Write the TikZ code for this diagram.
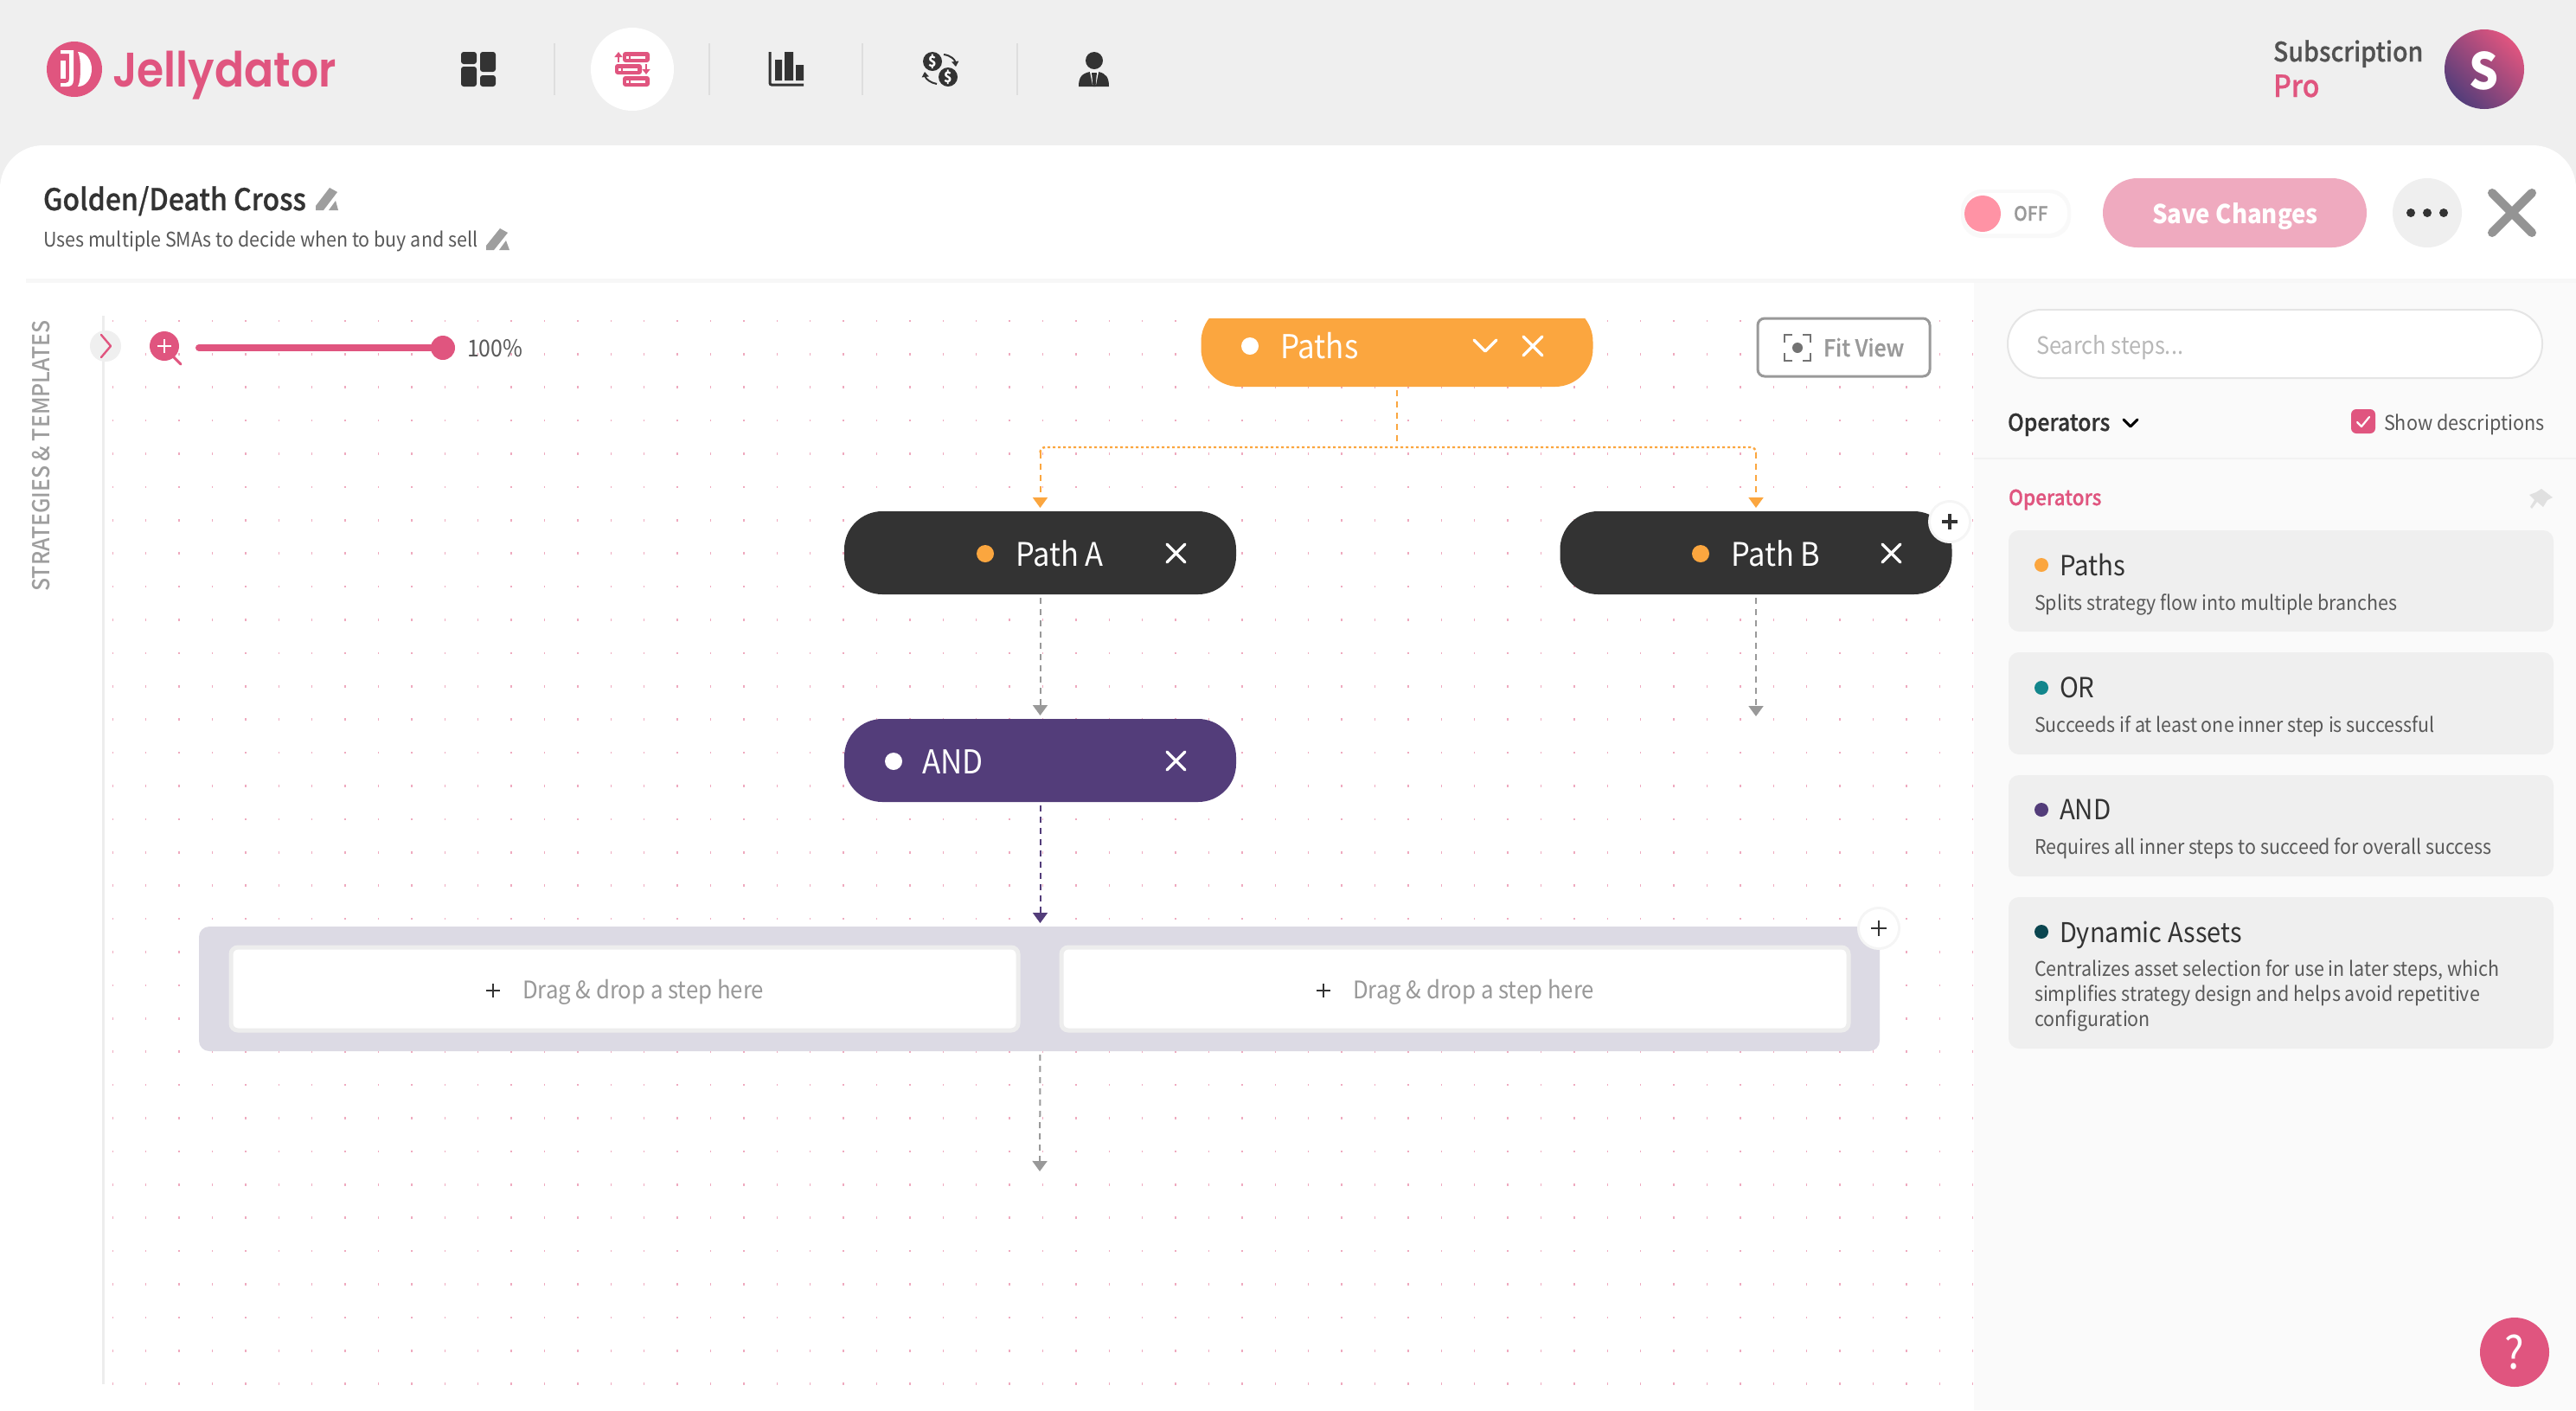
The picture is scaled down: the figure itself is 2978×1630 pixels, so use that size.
\documentclass[tikz,border=0pt]{standalone}
\usepackage{fontspec}
\usetikzlibrary{arrows.meta,calc}
\setmainfont{Noto Sans CJK SC}[FakeStretch=0.92]
\newfontfamily\medf{Noto Sans CJK SC Medium}[FakeStretch=0.92]
\newfontfamily\semif{Noto Sans CJK SC Medium}[FakeStretch=0.92,FakeBold=0.7]
\newfontfamily\logof{Poppins SemiBold}[FakeStretch=0.9]
\newcommand\fsz[1]{\fontsize{\fpeval{#1*0.5}}{\fpeval{#1*0.6}}\selectfont}
\definecolor{pinkc}{HTML}{E0557F}
\definecolor{orangec}{HTML}{FBA63F}
\definecolor{darkc}{HTML}{333333}
\definecolor{purplec}{HTML}{533D7A}
\definecolor{greyc}{HTML}{999999}
\definecolor{panelc}{HTML}{EFEFEF}
\definecolor{togglec}{HTML}{FF93A5}
\definecolor{groupc}{HTML}{DCDAE4}
\definecolor{tealc}{HTML}{12868C}
\definecolor{deepc}{HTML}{0B4650}
\tikzset{
 lbl/.style={inner sep=0pt,outer sep=0pt,anchor=base west},
 pill/.style={fill=#1,inner sep=0pt,outer sep=0pt,minimum width=226.5pt,minimum height=48pt,rounded corners=22pt},
 griddot/.style={fill=pinkc!50},
 flow/.style={line width=1pt,dash pattern=on 3.5pt off 3pt,-{Triangle[width=8.5pt,length=6pt]}},
 xmark/.style={draw=white,line width=1.7pt,line cap=round},
 dropbox/.style={fill=white,draw=black!7,line width=2.5pt,rounded corners=4pt,inner sep=0pt,outer sep=0pt,minimum width=455pt,minimum height=48pt},
 floatplus/.style={circle,fill=white,inner sep=0pt,outer sep=0pt,minimum size=22pt},
}
\begin{document}
\begin{tikzpicture}[x=0.5pt,y=-0.5pt]
\useasboundingbox (0,0) rectangle (2978,1630);
\fill[panelc] (0,0) rectangle (2978,1630);
\fill[white,rounded corners=25pt] (0,168) rectangle (2978,1720);
\fill[black!2] (2282,325) rectangle (2978,1630);
\fill[black!3] (30,322) rectangle (2978,327);
% grid
\foreach \i in {0,...,56}{\foreach \j in {0,...,32}{\fill[griddot] (129.5+\i*38.4,369.5+\j*38.4) rectangle ++(1.5,2.6);}}
\fill[black!7] (118,365) rectangle (121,1600);
% logo
\fill[pinkc] (86,80) circle (32);
\fill[white] (70,58) -- (85,58) -- (85,92) .. controls (85,98) and (82,100) .. (78,100) -- (70,100) -- (70,96) -- (76,96) .. controls (79,96) and (80,94) .. (80,91) -- (80,62) -- (70,62) -- cycle;
\fill[white] (70,70) -- (76,70) -- (76,91) -- (70,91) -- cycle;
\fill[white] (90,60) .. controls (100,60) and (106,70) .. (106,80) .. controls (106,90) and (100,100) .. (90,100) .. controls (94,94) and (94,66) .. (90,60) -- cycle;
\node[lbl,text=pinkc] (logotext) at (130,100) {\logof\fsz{56}Jellydator};
% nav icons
\fill[darkc,rounded corners=1.5pt] (533,60) rectangle (551,74);
\fill[darkc,rounded corners=1.5pt] (555,60) rectangle (573,83);
\fill[darkc,rounded corners=1.5pt] (533,77) rectangle (551,100);
\fill[darkc,rounded corners=1.5pt] (555,87) rectangle (573,100);
\foreach \x in {641,820,997,1176}{\draw[black!13,line width=1pt] (\x,50) -- (\x,110);}
\fill[white] (731,80) circle (48);
\foreach \x/\y in {720/60,711/74,720/88}{
 \fill[pinkc,rounded corners=1.5pt] (\x,\y) rectangle ++(31,12);
 \fill[white] (\x+4,\y+5) rectangle ++(2.5,2.5);
 \fill[white] (\x+9,\y+5) rectangle ++(17,2.5);}
\draw[pinkc,line width=1pt,-{Triangle[width=4.5pt,length=3pt]}] (715,72) -- (715,60);
\draw[pinkc,line width=1pt,-{Triangle[width=4.5pt,length=3pt]}] (747,74) -- (747,86);
\draw[darkc,line width=1.5pt,rounded corners=1pt] (890,60) -- (890,98) -- (929,98);
\fill[darkc] (896,69) rectangle (904,93) (907,60) rectangle (917,93) (920,75) rectangle (929,93);
\fill[darkc] (1078,71) circle (11) (1096,89) circle (11);
\node[text=white,inner sep=0pt] (usd1) at (1078,71) {\bfseries\fsz{17}\$};
\node[text=white,inner sep=0pt] (usd2) at (1096,89) {\bfseries\fsz{17}\$};
\draw[darkc,line width=1pt,-{Triangle[width=4pt,length=3pt]}] (1091,63) .. controls (1099,64) and (1104,69) .. (1105,77);
\draw[darkc,line width=1pt,-{Triangle[width=4pt,length=3pt]}] (1083,97) .. controls (1076,96) and (1070,91) .. (1069,83);
\fill[darkc] (1265,70) circle (10);
\fill[darkc] (1247,100) .. controls (1247,90) and (1250,85) .. (1260,83) -- (1270,83) .. controls (1279,85) and (1282,90) .. (1282,100) -- cycle;
\fill[white] (1260,83) -- (1270,83) -- (1267,98) -- (1263,98) -- cycle;
\fill[darkc] (1262,84) -- (1268,84) -- (1266.5,100) -- (1263.5,100) -- cycle;
% account
\node[lbl,text=black!68] (subs) at (2628,71) {\semif\fsz{31}Subscription};
\node[lbl,text=pinkc] (pro) at (2628,112) {\semif\fsz{35}Pro};
\shade[left color=pinkc,right color=purplec,shading angle=-45] (2872,80) circle (46);
\node[text=white,inner sep=0pt] (avatar) at (2872,82) {\bfseries\fsz{58}S};
% heading
\node[lbl,text=darkc] (title) at (50,243) {\semif\fsz{34.8}Golden/Death Cross};
\fill[black!38] (381,217) -- (390,222) -- (374,243) -- (365,243) -- (365,238) -- cycle (380,243) -- (391,243) -- (388,232) -- cycle;
\node[lbl,text=black!65] (subtitle) at (50,285) {\fsz{23.3}Uses multiple SMAs to decide when to buy and sell};
\fill[black!38] (578,264) -- (587,269) -- (571,289) -- (562,289) -- (562,284) -- cycle (577,289) -- (589,289) -- (585,278) -- cycle;
% toggle
\fill[black!2.5,rounded corners=12pt] (2267,219) rectangle (2394,275);
\fill[white,rounded corners=11pt] (2271,223) rectangle (2390,270);
\fill[togglec] (2292,247) circle (21);
\node[lbl,text=greyc] (off) at (2328,255) {\semif\fsz{22.7}OFF};
\node[fill=pinkc!50,inner sep=0pt,minimum width=152.5pt,minimum height=40pt,rounded corners=20pt] (save) at (2583.5,246) {};
\node[inner sep=0pt,anchor=base,text=white] (savet) at (2584,258) {\bfseries\fsz{30}Save Changes};
\fill[panelc] (2806,246) circle (40);
\fill[darkc] (2787,246) circle (5) (2806,246) circle (5) (2825,246) circle (5);
\draw[black!42,line width=5pt,line cap=round] (2881,223) -- (2927,269) (2927,223) -- (2881,269);
% fit view
\node[fill=white,draw=greyc,line width=1.5pt,rounded corners=4pt,inner sep=0pt,minimum width=99.5pt,minimum height=33.5pt] (fit) at (2131.5,401.5) {};
\draw[black!55,line width=1.2pt] (2063,396) -- (2063,387) -- (2072,387) (2084,387) -- (2093,387) -- (2093,396) (2093,408) -- (2093,417) -- (2084,417) (2072,417) -- (2063,417) -- (2063,408);
\fill[black!55] (2078,402) circle (6);
\node[lbl,text=greyc] (fittext) at (2108,412) {\semif\fsz{27}Fit View};
% slider
\fill[panelc] (122,400) circle (18);
\draw[pinkc,line width=1.2pt,line cap=round,line join=round] (117,387) -- (128,400) -- (117,413);
\fill[pinkc] (190,400) circle (17);
\draw[pinkc,line width=1.5pt,line cap=round] (200,412) -- (209,421);
\draw[white,line width=1.2pt] (182,400) -- (198,400) (190,392) -- (190,408);
\draw[pinkc,line width=4pt,line cap=round] (230,402) -- (512,402);
\fill[pinkc] (512,402) circle (14);
\node[lbl,text=black!65] (zoomlabel) at (540,412) {\fsz{27}100\%};
\node[text=black!38,rotate=90,inner sep=0pt] (side) at (48,527) {\medf\fsz{27}STRATEGIES \& TEMPLATES};
% flow nodes
\begin{scope}
\clip (1300,368) rectangle (1900,500);
\node[pill=orangec] (paths) at (1615,399) {};
\end{scope}
\fill[white] (1445,400) circle (10);
\node[lbl,text=white] (pathst) at (1480,414) {\fsz{38}Paths};
\draw[white,line width=1.7pt,line cap=round,line join=round] (1704,393) -- (1717,406) -- (1730,393);
\draw[xmark] (1761,389) -- (1783,411) (1783,389) -- (1761,411);
\node[pill=darkc] (patha) at (1202.5,639) {};
\fill[orangec] (1139,640) circle (10);
\node[lbl,text=white] (pathat) at (1174,654) {\fsz{37.5}Path A};
\draw[xmark] (1349,629) -- (1370,650) (1370,629) -- (1349,650);
\node[pill=darkc] (pathb) at (2030,639) {};
\fill[orangec] (1966,640) circle (10);
\node[lbl,text=white] (pathbt) at (2001,654) {\fsz{37.5}Path B};
\draw[xmark] (2176,629) -- (2197,650) (2197,629) -- (2176,650);
\node[pill=purplec] (andn) at (1202.5,879) {};
\fill[white] (1033,880) circle (10);
\node[lbl,text=white] (andt) at (1066,894) {\fsz{38}AND};
\draw[xmark] (1349,869) -- (1370,890) (1370,869) -- (1349,890);
% group
\node[fill=groupc,rounded corners=6pt,inner sep=0pt,outer sep=0pt,minimum width=971.5pt,minimum height=72pt] (grp) at (1201.5,1143) {};
\node[dropbox] (dropa) at (722,1143) {};
\node[dropbox] (dropb) at (1682,1143) {};
\draw[darkc,line width=1pt] (562,1145) -- (578,1145) (570,1137) -- (570,1153);
\node[lbl,text=greyc] (dropat) at (604,1154) {\fsz{28}Drag \& drop a step here};
\draw[darkc,line width=1pt] (1522,1145) -- (1538,1145) (1530,1137) -- (1530,1153);
\node[lbl,text=greyc] (dropbt) at (1564,1154) {\fsz{28}Drag \& drop a step here};
\fill[black!4] (2172,1073) circle (25);
\node[floatplus] (plusgrp) at (2172,1073) {};
\draw[darkc,line width=1.3pt] (2163,1073) -- (2181,1073) (2172,1064) -- (2172,1082);
\fill[black!4] (2254,603) circle (25);
\node[floatplus] (plusb) at (2254,603) {};
\draw[darkc,line width=2pt] (2245,603) -- (2263,603) (2254,594) -- (2254,612);
% connectors
\coordinate (bus) at (paths.south |- 0,517);
\coordinate (busa) at (patha.north |- 0,517);
\coordinate (busb) at (pathb.north |- 0,517);
\coordinate (freeb) at (2030,832);
\coordinate (freeg) at (1202,1358);
\draw[orangec,line width=1pt,dash pattern=on 3.5pt off 3pt,shorten <=2pt] (paths.south) -- (bus);
\draw[orangec,line width=1.2pt,dash pattern=on 1.5pt off 1.5pt,rounded corners=3pt] ($(busa)+(0,6)$) -- (busa) -- (busb) -- ($(busb)+(0,6)$);
\draw[orangec,flow,shorten >=2pt] ($(busa)+(0,6)$) -- (patha.north);
\draw[orangec,flow,shorten >=2pt] ($(busb)+(0,6)$) -- (pathb.north);
\draw[greyc,flow,shorten <=2pt,shorten >=2pt] (patha.south) -- (andn.north);
\draw[greyc,flow,shorten <=2pt,shorten >=2pt] (pathb.south) -- (freeb);
\draw[purplec,flow,shorten <=2pt,shorten >=2pt] (andn.south) -- (andn.south |- grp.north);
\draw[greyc,flow,shorten <=2pt,shorten >=2pt] (andn.south |- grp.south) -- (freeg);
% right panel
\node[fill=white,draw=black!10,line width=1pt,rounded corners=19.5pt,inner sep=0pt,minimum width=309pt,minimum height=39.5pt] (search) at (2630,397.5) {};
\node[lbl,text=black!28] (searcht) at (2354,409) {\fsz{27.6}Search steps...};
\node[lbl,text=darkc] (oph) at (2321,498) {\semif\fsz{27}Operators};
\draw[black,line width=1.5pt,line cap=round,line join=round] (2455,485) -- (2463,493) -- (2471,485);
\fill[pinkc,rounded corners=3pt] (2718,473) rectangle (2746,501);
\draw[white,line width=1.1pt,line cap=round,line join=round] (2725,488) -- (2730,493) -- (2739,482);
\node[lbl,text=black!65] (show) at (2756,497) {\fsz{23.5}Show descriptions};
\fill[black!5] (2282,529) rectangle (2978,531);
\node[lbl,text=pinkc] (opp) at (2322,584) {\semif\fsz{24.5}Operators};
\fill[black!12] (2938,565) -- (2951,575) -- (2945,578) -- (2940,586) -- (2933,580) -- (2927,588) -- (2925,586) -- (2930,578) -- (2924,572) -- (2932,569) -- cycle;
\fill[panelc,rounded corners=6pt] (2322,613) rectangle (2952,730);
\fill[panelc,rounded corners=6pt] (2322,754) rectangle (2952,872);
\fill[panelc,rounded corners=6pt] (2322,896) rectangle (2952,1013);
\fill[panelc,rounded corners=6pt] (2322,1037) rectangle (2952,1212);
\fill[orangec] (2360,653) circle (8);
\fill[tealc] (2360,795) circle (8);
\fill[purplec] (2360,936) circle (8);
\fill[deepc] (2360,1077) circle (8);
\node[lbl,text=darkc] (c1t) at (2381,665) {\fsz{32}Paths};
\node[lbl,text=black!65] (c1d) at (2352,705) {\fsz{23.3}Splits strategy flow into multiple branches};
\node[lbl,text=darkc] (c2t) at (2381,806) {\fsz{32}OR};
\node[lbl,text=black!65] (c2d) at (2352,846) {\fsz{23.3}Succeeds if at least one inner step is successful};
\node[lbl,text=darkc] (c3t) at (2381,947) {\fsz{32}AND};
\node[lbl,text=black!65] (c3d) at (2352,987) {\fsz{23.3}Requires all inner steps to succeed for overall success};
\node[lbl,text=darkc] (c4t) at (2381,1089) {\fsz{31.5}Dynamic Assets};
\node[lbl,text=black!65] (c4d) at (2352,1128) {\fsz{23.3}Centralizes asset selection for use in later steps, which};
\node[lbl,text=black!65] (c4e) at (2352,1157) {\fsz{23.3}simplifies strategy design and helps avoid repetitive};
\node[lbl,text=black!65] (c4f) at (2352,1186) {\fsz{23.3}configuration};
\fill[pinkc] (2907,1563) circle (40);
\node[text=white,inner sep=0pt] (help) at (2907,1563) {\fsz{52}?};
\end{tikzpicture}
\end{document}
